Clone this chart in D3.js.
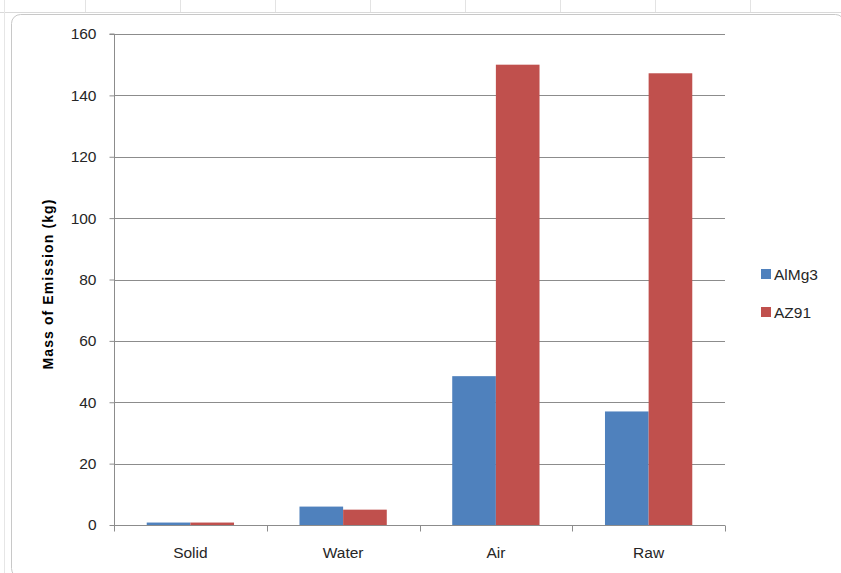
<!DOCTYPE html>
<html><head><meta charset="utf-8">
<script src="https://cdn.jsdelivr.net/npm/d3@7"></script>
<style>html,body{margin:0;padding:0;background:#fff;}svg{display:block;}</style>
</head><body>
<svg id="chart" width="841" height="573"></svg>
<script>
const categories = ["Solid", "Water", "Air", "Raw"];
const seriesNames = ["AlMg3", "AZ91"];
const alMg3 = [0.8, 6, 48.5, 37];
const az91 = [0.8, 5, 150, 147.2];
const yTicks = [0, 20, 40, 60, 80, 100, 120, 140, 160];
const colors = ["#4F81BD", "#C0504D"];

const svg = d3.select("#chart");
const W = 841, H = 573;
const font = "'Liberation Sans', Arial, sans-serif";

// spreadsheet background strip
svg.append("rect").attr("x",0).attr("y",0).attr("width",W).attr("height",H).attr("fill","#ffffff");
svg.append("line").attr("x1",0).attr("x2",W).attr("y1",12.5).attr("y2",12.5).attr("stroke","#d9d9d9");
[85,180,275,370,465,560,655,750].forEach(x=>{
  svg.append("line").attr("x1",x+0.5).attr("x2",x+0.5).attr("y1",0).attr("y2",12).attr("stroke","#e3e3e3");
});
svg.append("line").attr("x1",4.5).attr("x2",4.5).attr("y1",0).attr("y2",H).attr("stroke","#e6e6e6");
// chart frame
svg.append("rect").attr("x",11.5).attr("y",14.5).attr("width",W-8).attr("height",H-10)
  .attr("rx",9).attr("fill","#fff").attr("stroke","#c8c8c8");

const m = {left:114, right:725, top:34, bottom:525};
const x0 = d3.scaleBand().domain(categories).range([m.left, m.right]).paddingInner(0).paddingOuter(0);
const barW = x0.bandwidth() / 3.5;
const x1 = d3.scaleBand().domain(seriesNames).range([barW*0.75, barW*0.75 + 2*barW]);
const y = d3.scaleLinear().domain([0,160]).range([m.bottom, m.top]);

// gridlines
svg.append("g").selectAll("line").data(yTicks.filter(d=>d>0)).join("line")
  .attr("x1", m.left).attr("x2", m.right)
  .attr("y1", d=>Math.round(y(d))+0.5).attr("y2", d=>Math.round(y(d))+0.5)
  .attr("stroke","#8c8c8c").attr("stroke-width",1);

// bars
const data = categories.map((c,i)=>({cat:c, vals:[alMg3[i], az91[i]]}));
const groups = svg.append("g").selectAll("g").data(data).join("g")
  .attr("transform", d=>`translate(${x0(d.cat)},0)`);
groups.selectAll("rect").data(d=>d.vals.map((v,j)=>({name:seriesNames[j], v, j}))).join("rect")
  .attr("x", d=>x1(d.name)).attr("width", x1.bandwidth())
  .attr("y", d=>y(d.v)).attr("height", d=>y(0)-y(d.v))
  .attr("fill", d=>colors[d.j]);

// y axis
const yAxis = d3.axisLeft(y).tickValues(yTicks).tickSize(5).tickPadding(13).tickFormat(d3.format("d"));
const yg = svg.append("g").attr("transform",`translate(${m.left+0.5},0)`).call(yAxis);
yg.select(".domain").attr("stroke","#8c8c8c").attr("d",`M-5,${m.top}H0V${m.bottom}`);
yg.selectAll(".tick line").attr("stroke","#8c8c8c");
yg.selectAll(".tick text").attr("font-family",font).attr("font-size",15.5).attr("fill","#262626");

// x axis
const xg = svg.append("g").attr("transform",`translate(0,${m.bottom+0.5})`);
xg.append("line").attr("x1",m.left).attr("x2",m.right).attr("y1",0).attr("y2",0).attr("stroke","#8c8c8c");
const xTickPos = categories.map(c=>x0(c)).concat([m.right]);
xg.selectAll("line.tk").data(xTickPos).join("line").attr("class","tk")
  .attr("x1",d=>Math.round(d)+0.5).attr("x2",d=>Math.round(d)+0.5).attr("y1",0).attr("y2",6).attr("stroke","#8c8c8c");
xg.selectAll("text").data(categories).join("text")
  .attr("x", d=>x0(d)+x0.bandwidth()/2).attr("y", 32)
  .attr("text-anchor","middle").attr("font-family",font).attr("font-size",15.5).attr("fill","#262626")
  .text(d=>d);

// y title
svg.append("text").attr("transform","translate(53,284) rotate(-90)")
  .attr("text-anchor","middle").attr("font-family",font).attr("font-size",14).attr("font-weight","bold")
  .attr("letter-spacing","1.1px")
  .attr("fill","#000").text("Mass of Emission  (kg)");

// legend
const lg = svg.append("g").selectAll("g").data(seriesNames).join("g")
  .attr("transform",(d,i)=>`translate(761,${269 + i*38})`);
lg.append("rect").attr("x",0).attr("y",0).attr("width",10).attr("height",10).attr("fill",(d,i)=>colors[i]);
lg.append("text").attr("x",13).attr("y",11).attr("font-family",font).attr("font-size",15.5).attr("fill","#262626").text(d=>d);
</script>
</body></html>
